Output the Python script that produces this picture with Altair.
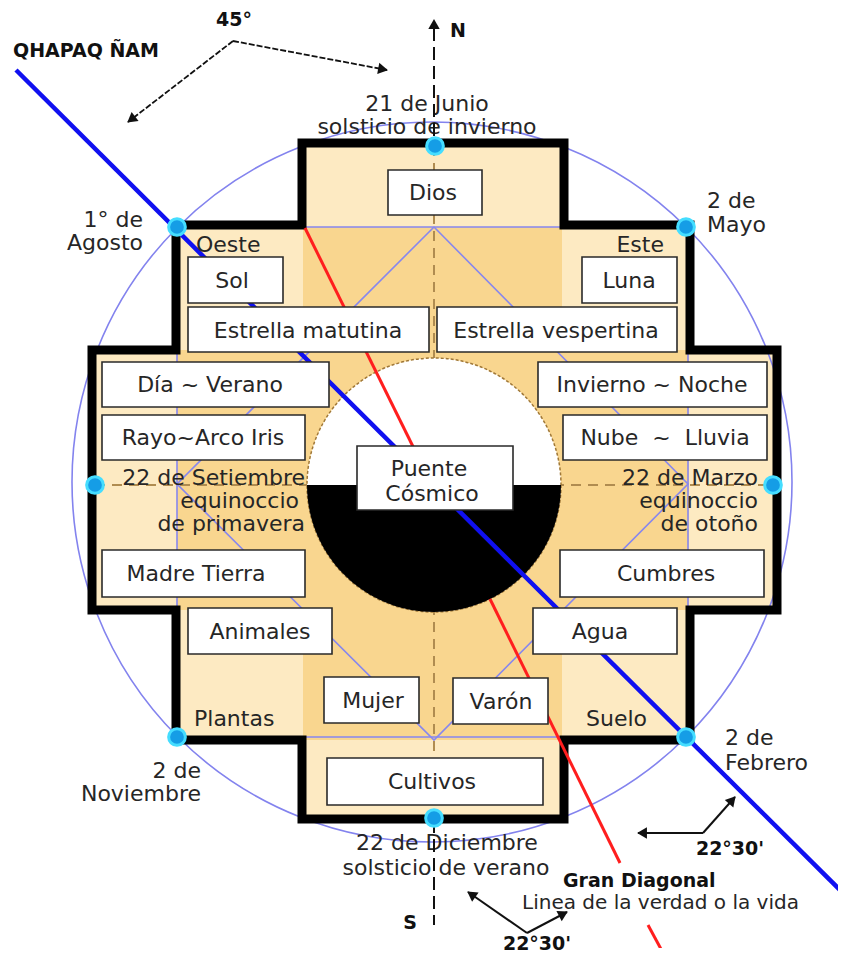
import math
import altair as alt
import pandas as pd

# ---------------- data (reference pixel coordinates) ----------------
# Chakana outline
cross_x = [302, 564, 564, 690, 690, 777, 777, 690, 690, 564, 564, 302, 302, 176, 176, 92, 92, 176, 176, 302, 302]
cross_y = [143, 143, 225, 225, 350, 350, 610, 610, 740, 740, 819, 819, 740, 740, 610, 610, 350, 350, 225, 225, 143]

# light and dark fill zones
light_x1 = [302, 176, 92]
light_x2 = [564, 690, 777]
light_y1 = [143, 225, 350]
light_y2 = [819, 740, 610]
dark_x1 = [303, 177]
dark_x2 = [562, 689]
dark_y1 = [227, 350]
dark_y2 = [740, 610]

# labelled boxes
box_x1 = [388, 188, 582, 188, 437, 102, 102, 102, 538, 563, 560, 357, 188, 533, 324, 453, 327]
box_x2 = [482, 283, 677, 429, 677, 329, 305, 305, 767, 767, 764, 513, 332, 677, 419, 548, 543]
box_y1 = [170, 257, 257, 307, 307, 362, 415, 550, 362, 415, 550, 446, 608, 608, 677, 678, 758]
box_y2 = [215, 303, 303, 352, 352, 407, 460, 597, 407, 460, 597, 510, 654, 654, 723, 724, 805]

box_text = ["Dios", "Sol", "Luna", "Estrella matutina", "Estrella vespertina",
            "Día ~ Verano", "Rayo~Arco Iris", "Madre Tierra", "Invierno ~ Noche",
            "Nube\u00a0\u00a0~\u00a0\u00a0Lluvia", "Cumbres", "Puente", "Cósmico",
            "Animales", "Agua", "Mujer", "Varón", "Cultivos"]
box_text_x = [433, 232, 629, 308, 556, 210, 203, 196, 652, 665, 666, 429, 432, 260, 600, 373, 501, 432]
box_text_y = [193, 281, 281, 331, 331, 385, 438, 574, 385, 438, 574, 469, 494, 632, 632, 701, 702, 782]

# free labels
lab_text = ["21 de Junio", "solsticio de invierno", "1° de", "Agosto", "2 de", "Mayo",
            "Oeste", "Este", "22 de Setiembre", "equinoccio", "de primavera",
            "22 de Marzo", "equinoccio", "de otoño", "Plantas", "Suelo",
            "2 de", "Noviembre", "2 de", "Febrero", "22 de Diciembre", "solsticio de verano",
            "Linea de la verdad o la vida"]
lab_x = [427, 427, 143, 143, 707, 707, 196, 664, 305, 299, 305, 758, 758, 758, 194, 647,
         201, 201, 725, 725, 447, 446, 522]
lab_y = [104, 127, 220, 243, 201, 225, 245, 245, 478, 501, 524, 478, 501, 524, 719, 719,
         771, 794, 738, 763, 843, 868, 903]
lab_align = ["center", "center", "right", "right", "left", "left", "left", "right",
             "right", "right", "right", "right", "right", "right", "left", "right",
             "right", "right", "left", "left", "center", "center", "left"]

bold_text = ["QHAPAQ ÑAM", "45°", "N", "S", "22°30'", "22°30'", "Gran Diagonal"]
bold_x = [13, 234, 450, 410, 730, 537, 563]
bold_y = [51, 20, 31, 923, 849, 944, 881]
bold_align = ["left", "center", "left", "center", "center", "center", "left"]

# blue calendar dots
dot_x = [435, 95, 773, 434, 177, 686, 177, 686]
dot_y = [146, 485, 485, 818, 227, 227, 737, 737]

# lines
blue_x = [16, 846]
blue_y = [70, 896]
red_seg = [1, 1, 2, 2, 3, 3]
red_x = [305, 432, 490, 620, 648, 668]
red_y = [228, 485, 599, 863, 925, 962]
lav_seg = [1, 1, 1, 1, 1, 2, 2, 2, 2, 2]
lav_x = [177, 688, 688, 177, 177, 434, 688, 434, 177, 434]
lav_y = [227, 227, 737, 737, 227, 227, 484, 740, 484, 227]
brown_seg = [1, 1, 2, 2]
brown_x = [434, 434, 95, 773]
brown_y = [146, 818, 485, 485]
axis_seg = [1, 1, 2, 2]
axis_x = [434, 434, 434, 434]
axis_y = [28, 146, 820, 925]

# arrows (tail -> tip)
arr_x0 = [233, 233, 703, 703, 527, 527, 434]
arr_y0 = [41, 41, 833, 833, 933, 933, 60]
arr_x1 = [128, 387, 638, 735, 468, 567, 434]
arr_y1 = [122, 70, 833, 797, 892, 912, 20]
arr_dashed = [1, 1, 0, 0, 0, 0, 2]

# circles: centre x, centre y, radius
big_circle = (432, 482, 360)
mid_circle = (434, 485, 127)

# ---------------- helpers ----------------
X = alt.X("x:Q", scale=alt.Scale(domain=[8, 838], nice=False, zero=False), axis=None)
Y = alt.Y("y:Q", scale=alt.Scale(domain=[948, 8], nice=False, zero=False), axis=None)
X2 = alt.X2("x2:Q")
Y2 = alt.Y2("y2:Q")
FONT = "DejaVu Sans"
INK = "#262626"


def rects(x1, x2, y1, y2):
    return pd.DataFrame({"x": x1, "x2": x2, "y": y1, "y2": y2})


def path(xs, ys, seg=None):
    seg = seg if seg is not None else [1] * len(xs)
    return pd.DataFrame({"x": xs, "y": ys, "seg": seg, "i": list(range(len(xs)))})


def line_layer(df, **kw):
    return alt.Chart(df).mark_line(**kw).encode(x=X, y=Y, detail="seg:N", order="i:Q")


layers = []
layers.append(alt.Chart(rects(light_x1, light_x2, light_y1, light_y2))
              .mark_rect(color="#FDEAC2").encode(x=X, x2=X2, y=Y, y2=Y2))
layers.append(alt.Chart(rects(dark_x1, dark_x2, dark_y1, dark_y2))
              .mark_rect(color="#F9D68F").encode(x=X, x2=X2, y=Y, y2=Y2))

layers.append(line_layer(path(brown_x, brown_y, brown_seg), color="#B08C50",
                         strokeWidth=2, strokeDash=[10, 7]))

# big lavender circle
bcx, bcy, br = big_circle
layers.append(alt.Chart(pd.DataFrame({"x": [bcx], "y": [bcy]})).mark_point(
    shape="circle", size=(2 * br) ** 2, filled=False, stroke="#8383EE",
    strokeWidth=1.6, opacity=1).encode(x=X, y=Y))
layers.append(line_layer(path(lav_x, lav_y, lav_seg), color="#8787EE", strokeWidth=1.6))

# chakana outline
layers.append(line_layer(path(cross_x, cross_y), color="black", strokeWidth=9,
                         strokeJoin="miter", strokeCap="square"))

# central circle: white top, black bottom
mcx, mcy, mr = mid_circle
mid_df = pd.DataFrame({"x": [mcx], "y": [mcy]})
layers.append(alt.Chart(mid_df).mark_point(
    shape="circle", size=(2 * mr) ** 2, filled=True, fill="white", color="white",
    stroke="#A07838", strokeWidth=1.5, strokeDash=[3, 2], opacity=1).encode(x=X, y=Y))
layers.append(alt.Chart(mid_df).mark_point(
    shape="M -1 0 A 1 1 0 0 0 1 0 Z", size=(2 * mr) ** 2, filled=True, fill="black",
    color="black", strokeWidth=0, opacity=1).encode(x=X, y=Y))

# red and blue diagonals
layers.append(line_layer(path(red_x, red_y, red_seg), color="#FF1E1E", strokeWidth=3, clip=True))
layers.append(line_layer(path(blue_x, blue_y), color="#1010F0", strokeWidth=4.5, clip=True))

# boxes
layers.append(alt.Chart(rects(box_x1, box_x2, box_y1, box_y2))
              .mark_rect(fill="white", stroke="#2a2a2a", strokeWidth=1.6)
              .encode(x=X, x2=X2, y=Y, y2=Y2))
layers.append(alt.Chart(pd.DataFrame({"x": box_text_x, "y": box_text_y, "t": box_text}))
              .mark_text(font=FONT, fontSize=22, color=INK, align="center", baseline="middle")
              .encode(x=X, y=Y, text="t:N"))

# free labels
LINEA = "Linea de la verdad o la vida"
lab_df = pd.DataFrame({"x": lab_x, "y": lab_y, "t": lab_text, "a": lab_align})
for a in ["left", "center", "right"]:
    sub = lab_df[(lab_df["a"] == a) & (lab_df["t"] != LINEA)]
    layers.append(alt.Chart(sub).mark_text(font=FONT, fontSize=22, color=INK, align=a,
                                           baseline="middle").encode(x=X, y=Y, text="t:N"))
layers.append(alt.Chart(lab_df[lab_df["t"] == LINEA])
              .mark_text(font=FONT, fontSize=20, color=INK, align="left", baseline="middle")
              .encode(x=X, y=Y, text="t:N"))

# N-S axis and arrows
layers.append(line_layer(path(axis_x, axis_y, axis_seg), color="#111111",
                         strokeWidth=2, strokeDash=[13, 6]))
arr_rows = []
head_rows = []
for k in range(len(arr_x0)):
    if arr_dashed[k] != 2:
        arr_rows.append({"x": arr_x0[k], "y": arr_y0[k], "seg": k, "i": 0, "d": arr_dashed[k]})
        arr_rows.append({"x": arr_x1[k], "y": arr_y1[k], "seg": k, "i": 1, "d": arr_dashed[k]})
    dx = arr_x1[k] - arr_x0[k]
    dy = arr_y1[k] - arr_y0[k]
    L = math.hypot(dx, dy)
    ang = math.degrees(math.atan2(dx, -dy)) % 360
    head_rows.append({"x": arr_x1[k] - 4 * dx / L, "y": arr_y1[k] - 4 * dy / L, "ang": ang})
arr_df = pd.DataFrame(arr_rows)
layers.append(line_layer(arr_df[arr_df["d"] == 1], color="#111111", strokeWidth=1.8,
                         strokeDash=[6, 2]))
layers.append(line_layer(arr_df[arr_df["d"] == 0], color="#111111", strokeWidth=2))
layers.append(alt.Chart(pd.DataFrame(head_rows)).mark_point(
    shape="triangle-up", size=130, filled=True, color="#111111", opacity=1).encode(
    x=X, y=Y, angle=alt.Angle("ang:Q", scale=None)))

# calendar dots
layers.append(alt.Chart(pd.DataFrame({"x": dot_x, "y": dot_y})).mark_point(
    shape="circle", size=280, filled=True, fill="#159DE6", color="#159DE6",
    stroke="#45DDFF", strokeWidth=3, opacity=1).encode(x=X, y=Y))

# bold labels
bold_df = pd.DataFrame({"x": bold_x, "y": bold_y, "t": bold_text, "a": bold_align})
for a in ["left", "center"]:
    layers.append(alt.Chart(bold_df[bold_df["a"] == a]).mark_text(
        font=FONT, fontSize=19, fontWeight="bold", color="#111111", align=a,
        baseline="middle").encode(x=X, y=Y, text="t:N"))

chart = alt.layer(*layers).properties(
    width=830, height=940, padding=0, background="white"
).configure_view(strokeWidth=0)

chart.save("out.html", embed_options={"renderer": "svg", "actions": False})
